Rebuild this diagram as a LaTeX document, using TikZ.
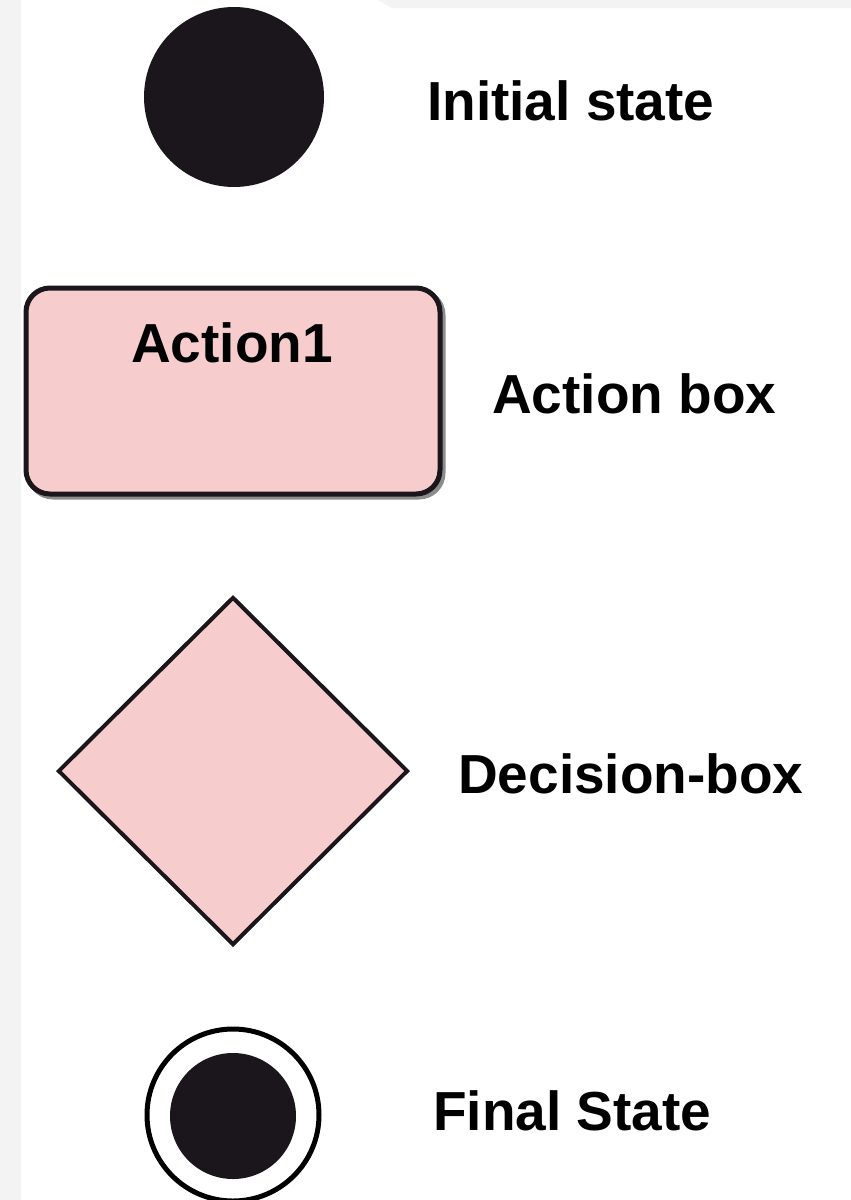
\documentclass[tikz,border=0pt]{standalone}
\usepackage{fontspec}
\setmainfont{Liberation Sans}
\usetikzlibrary{shapes.geometric}
\definecolor{inkdark}{HTML}{1A161C}
\definecolor{pinkfill}{HTML}{F6CDCC}
\definecolor{bgfaint}{HTML}{F3F3F3}
\tikzset{
  lbl/.style={font=\fontsize{55}{60}\selectfont\bfseries, inner sep=0pt, text=black},
  dot/.style={circle, fill=inkdark, draw=none, inner sep=0pt},
  actbox/.style={rectangle, rounded corners=24pt, fill=pinkfill, draw=inkdark, line width=5pt, inner sep=0pt, minimum width=414pt, minimum height=206pt},
  boxshadow/.style={rectangle, rounded corners=24pt, draw=black!45, line width=5pt, inner sep=0pt, minimum width=414pt, minimum height=206pt},
  decbox/.style={diamond, fill=pinkfill, draw=inkdark, line width=4pt, inner sep=0pt, minimum width=350pt, minimum height=348pt},
  ring/.style={circle, draw=black, line width=5pt, fill=white, inner sep=0pt}
}
\begin{document}
\begin{tikzpicture}[x=1pt, y=-1pt]
\useasboundingbox (0,0) rectangle (851,1200);
\fill[white] (0,0) rectangle (851,1200);
% faint background
\fill[bgfaint] (0,0) rectangle (21,1200);
\fill[bgfaint] (378,0) -- (851,0) -- (851,8) -- (392,8) -- cycle;
% initial state
\node[dot, minimum size=180pt] (init) at (234,97) {};
\node[lbl, anchor=base west] (initlbl) at (427,120) {Initial state};
% action box
\node[boxshadow] (actshadow) at (236,394) {};
\node[actbox] (act) at (233,391) {};
\node[lbl, anchor=base] (acttxt) at (232,362) {Action1};
\node[lbl, anchor=base west] (actlbl) at (492,413) {Action box};
% decision box
\node[decbox] (dec) at (233,771) {};
\node[lbl, anchor=base west] (declbl) at (458,793) {Decision-box};
% final state
\node[ring, minimum size=172pt] (finring) at (233,1115) {};
\node[dot, minimum size=126pt] (fin) at (233,1116) {};
\node[lbl, anchor=base west] (finlbl) at (433,1130) {Final State};
\end{tikzpicture}
\end{document}
